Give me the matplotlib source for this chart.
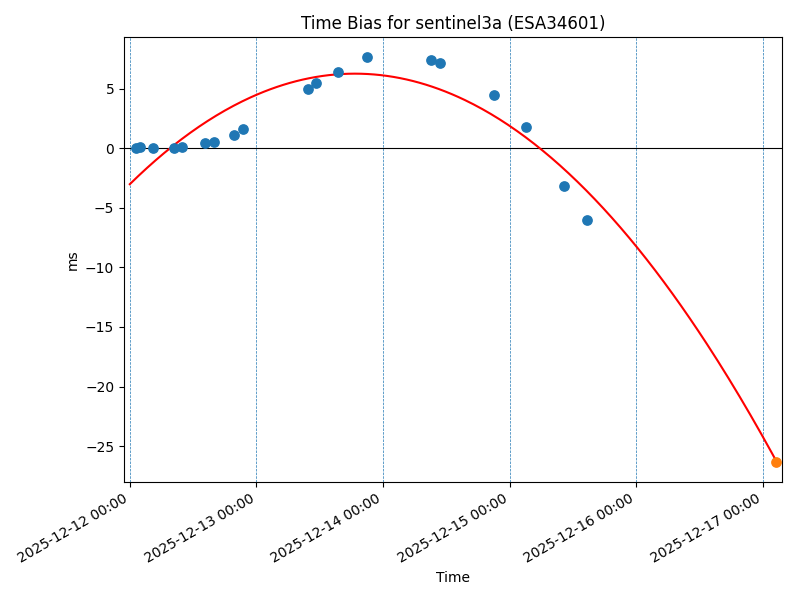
import numpy as np
import pandas as pd
import matplotlib
matplotlib.use("Agg")
import matplotlib.pyplot as plt
import matplotlib.dates as mdates

# Hours since 2025-12-12 00:00 of each observation
obs_hours = [1.14, 1.9, 4.36, 8.4, 9.9, 14.3, 16.05, 19.8, 21.4, 33.7, 35.3,
             39.5, 44.9, 57.1, 58.8, 69.1, 75.1, 82.3, 86.7]
obs_bias_ms = [0.0, 0.06, 0.0, 0.0, 0.1, 0.42, 0.5, 1.15, 1.57, 4.98, 5.5,
               6.4, 7.62, 7.4, 7.17, 4.5, 1.8, -3.15, -6.0]
pred_hours = 122.5
pred_bias_ms = -26.3
day_labels = ["2025-12-12", "2025-12-13", "2025-12-14", "2025-12-15",
              "2025-12-16", "2025-12-17"]

t0 = pd.Timestamp("2025-12-12 00:00")
obs_t = [t0 + pd.Timedelta(hours=h) for h in obs_hours]
pred_t = t0 + pd.Timedelta(hours=pred_hours)

# quadratic fit through observations, extrapolated to the prediction time
coef = np.polyfit(obs_hours, obs_bias_ms, 2)
fit_h = np.linspace(0, pred_hours, 300)
fit_v = np.polyval(coef, fit_h)
fit_t = [t0 + pd.Timedelta(hours=h) for h in fit_h]

fig, ax = plt.subplots(figsize=(8, 6), dpi=100)
for d in day_labels:
    ax.axvline(pd.Timestamp(d), color="tab:blue", linestyle="--", linewidth=0.5)
ax.axhline(0, color="black", linewidth=0.8)
ax.plot(fit_t, fit_v, color="red", linewidth=1.5)
ax.scatter(obs_t, obs_bias_ms, color="tab:blue", s=45, zorder=3)
ax.scatter([pred_t], [pred_bias_ms], color="tab:orange", s=45, zorder=3)

ax.set_xlim(t0 - pd.Timedelta(hours=1.1), t0 + pd.Timedelta(hours=123.6))
ax.xaxis.set_major_locator(mdates.DayLocator())
ax.xaxis.set_major_formatter(mdates.DateFormatter("%Y-%m-%d %H:%M"))
ax.set_title("Time Bias for sentinel3a (ESA34601)")
ax.set_xlabel("Time")
ax.set_ylabel("ms")
fig.autofmt_xdate()
fig.subplots_adjust(left=0.155, right=0.9775, top=0.938, bottom=0.197)
fig.savefig("out.png", dpi=100)
